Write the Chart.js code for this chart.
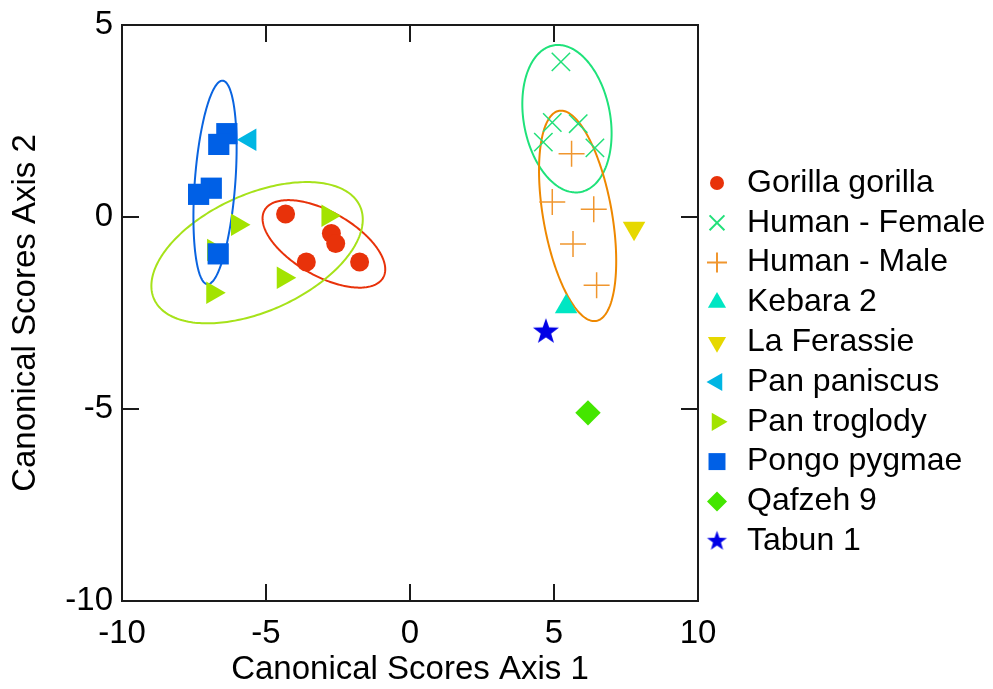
<!DOCTYPE html>
<html>
<head>
<meta charset="utf-8">
<title>Canonical Scores</title>
<script src="https://cdn.jsdelivr.net/npm/chart.js@4/dist/chart.umd.min.js"></script>
<style>
  html, body { margin: 0; padding: 0; background: #ffffff; }
  #wrap { width: 993px; height: 689px; }
</style>
</head>
<body>
<div id="wrap"><canvas id="chart" width="993" height="689"></canvas></div>
<script>
// ---- data: canonical scores per specimen group ----
const seriesNames = ['Gorilla gorilla', 'Human - Female', 'Human - Male', 'Kebara 2', 'La Ferassie',
                     'Pan paniscus', 'Pan troglody', 'Pongo pygmae', 'Qafzeh 9', 'Tabun 1'];

const gorillaX   = [-4.32, -2.73, -2.58, -3.60, -1.75];
const gorillaY   = [ 0.08, -0.43, -0.69, -1.17, -1.17];
const femaleX    = [ 5.24,  4.94,  5.84,  4.63,  6.42];
const femaleY    = [ 4.04,  2.46,  2.43,  1.95,  1.80];
const maleX      = [ 5.61,  4.94,  6.38,  5.66,  6.48];
const maleY      = [ 1.65,  0.39,  0.20, -0.70, -1.78];
const kebaraX    = [ 5.42];
const kebaraY    = [-2.34];
const ferassieX  = [ 7.78];
const ferassieY  = [-0.29];
const paniscusX  = [-5.56];
const paniscusY  = [ 2.01];
const troglodyX  = [-2.85, -5.99, -4.40, -6.85, -6.82];
const troglodyY  = [ 0.03, -0.20, -1.58, -1.97, -0.86];
const pongoX     = [-6.36, -6.64, -6.90, -7.34, -6.66];
const pongoY     = [ 2.17,  1.89,  0.75,  0.59, -0.96];
const qafzehX    = [ 6.18];
const qafzehY    = [-5.10];
const tabunX     = [ 4.72];
const tabunY     = [-2.99];

const seriesX = [gorillaX, femaleX, maleX, kebaraX, ferassieX, paniscusX, troglodyX, pongoX, qafzehX, tabunX];
const seriesY = [gorillaY, femaleY, maleY, kebaraY, ferassieY, paniscusY, troglodyY, pongoY, qafzehY, tabunY];

// confidence ellipses: centre, half-extent along each axis, correlation
const ellipseGroups = ['Gorilla gorilla', 'Human - Female', 'Human - Male', 'Pan troglody', 'Pongo pygmae'];
const ellipseCx   = [-2.99, 5.45, 5.82, -5.31, -6.77];
const ellipseCy   = [-0.70, 2.56, 0.03, -0.93,  0.90];
const ellipseSx   = [ 2.13, 1.55, 1.34,  3.67,  0.75];
const ellipseSy   = [ 1.14, 1.92, 2.74,  1.84,  2.65];
const ellipseCorr = [-0.58, -0.20, -0.43, 0.47,  0.34];

const xTickValues = [-10, -5, 0, 5, 10];
const yTickValues = [-10, -5, 0, 5];

// ---- styles ----
const FONT = '"Liberation Sans", Arial, Helvetica, sans-serif';
const seriesColors = ['#e8320a', '#22e07a', '#f0962e', '#00e6c3', '#e6d800',
                      '#00b6e3', '#a3e300', '#0060e6', '#44e600', '#0000e6'];
const ellipseColors = ['#e8320a', '#1fe27a', '#ee8800', '#a6e21a', '#0a64e0'];

function makeStar(outer, color) {
  const size = Math.ceil(outer * 2 + 2);
  const cv = document.createElement('canvas');
  cv.width = size; cv.height = size;
  const c = cv.getContext('2d');
  const cx = size / 2, cy = size / 2, inner = outer * 0.40;
  c.beginPath();
  for (let k = 0; k < 10; k++) {
    const r = k % 2 === 0 ? outer : inner;
    const a = -Math.PI / 2 + k * Math.PI / 5;
    const px = cx + r * Math.cos(a), py = cy + r * Math.sin(a);
    if (k === 0) c.moveTo(px, py); else c.lineTo(px, py);
  }
  c.closePath();
  c.fillStyle = color;
  c.fill();
  return cv;
}

const starBig = makeStar(13.7, seriesColors[9]);
const starSmall = makeStar(10.5, seriesColors[9]);

const pointStyles   = ['circle', 'crossRot', 'cross', 'triangle', 'triangle', 'triangle', 'triangle', 'rect', 'rectRot', starBig];
const legendStyles  = ['circle', 'crossRot', 'cross', 'triangle', 'triangle', 'triangle', 'triangle', 'rect', 'rectRot', starSmall];
const pointRotation = [0, 0, 0, 0, 180, -90, 90, 0, 0, 0];
const pointRadii    = [9.5, 13, 13, 13, 13, 13, 13, 15, 12.7, 14];
const legendRadii   = [7, 10.5, 10, 10.5, 10.5, 10.5, 10.5, 12, 10, 10];
const strokeWidths  = [0, 1.5, 1.5, 0, 0, 0, 0, 0, 0, 0];

const datasets = seriesNames.map((name, i) => ({
  label: name,
  data: seriesX[i].map((x, k) => ({ x: x, y: seriesY[i][k] })),
  pointStyle: pointStyles[i],
  rotation: pointRotation[i],
  pointRadius: pointRadii[i],
  pointHoverRadius: pointRadii[i],
  backgroundColor: seriesColors[i],
  borderColor: seriesColors[i],
  borderWidth: strokeWidths[i],
  order: 20 - i
}));

// ellipses under the markers
const ellipsePlugin = {
  id: 'confidenceEllipses',
  beforeDatasetsDraw(chart) {
    const { ctx, chartArea, scales: { x, y } } = chart;
    ctx.save();
    ctx.beginPath();
    ctx.rect(chartArea.left, chartArea.top, chartArea.width, chartArea.height);
    ctx.clip();
    ellipseGroups.forEach((g, i) => {
      const cx = ellipseCx[i], cy = ellipseCy[i], r = ellipseCorr[i];
      const c0 = x.getPixelForValue(cx), c1 = y.getPixelForValue(cy);
      const ux = x.getPixelForValue(cx + ellipseSx[i]) - c0;
      const uy = y.getPixelForValue(cy + r * ellipseSy[i]) - c1;
      const vy = y.getPixelForValue(cy + Math.sqrt(1 - r * r) * ellipseSy[i]) - c1;
      ctx.beginPath();
      const n = 240;
      for (let k = 0; k <= n; k++) {
        const t = 2 * Math.PI * k / n;
        const px = c0 + ux * Math.cos(t);
        const py = c1 + uy * Math.cos(t) + vy * Math.sin(t);
        if (k === 0) ctx.moveTo(px, py); else ctx.lineTo(px, py);
      }
      ctx.closePath();
      ctx.strokeStyle = ellipseColors[i];
      ctx.lineWidth = 2;
      ctx.stroke();
    });
    ctx.restore();
  }
};

// closed frame with inward tick marks on all four sides, plus the legend
const framePlugin = {
  id: 'frameAndLegend',
  afterDraw(chart) {
    const { ctx, chartArea: a, scales: { x, y } } = chart;
    ctx.save();
    ctx.strokeStyle = '#1a1a1a';
    ctx.lineWidth = 2;
    ctx.strokeRect(a.left, a.top, a.right - a.left, a.bottom - a.top);
    const tl = 17;
    ctx.beginPath();
    xTickValues.forEach(v => {
      const px = Math.round(x.getPixelForValue(v));
      ctx.moveTo(px, a.bottom); ctx.lineTo(px, a.bottom - tl);
      ctx.moveTo(px, a.top); ctx.lineTo(px, a.top + tl);
    });
    yTickValues.forEach(v => {
      const py = Math.round(y.getPixelForValue(v));
      ctx.moveTo(a.left, py); ctx.lineTo(a.left + tl, py);
      ctx.moveTo(a.right, py); ctx.lineTo(a.right - tl, py);
    });
    ctx.stroke();

    // legend
    const lx = 717, tx = 747, y0 = 183, step = 39.8;
    seriesNames.forEach((name, i) => {
      const ly = y0 + step * i;
      ctx.fillStyle = seriesColors[i];
      ctx.strokeStyle = seriesColors[i];
      Chart.helpers.drawPoint(ctx, {
        pointStyle: legendStyles[i],
        rotation: pointRotation[i],
        radius: legendRadii[i],
        borderWidth: strokeWidths[i] || 0
      }, lx, ly);
      ctx.fillStyle = '#000000';
      ctx.font = '32px ' + FONT;
      ctx.textBaseline = 'middle';
      ctx.textAlign = 'left';
      ctx.fillText(name, tx, ly);
    });
    ctx.restore();
  }
};

new Chart(document.getElementById('chart'), {
  type: 'scatter',
  data: { datasets },
  plugins: [ellipsePlugin, framePlugin],
  options: {
    responsive: false,
    animation: false,
    devicePixelRatio: 1,
    layout: { padding: { top: 25, right: 295, left: 0, bottom: 0 } },
    plugins: { legend: { display: false }, tooltip: { enabled: false } },
    scales: {
      x: {
        type: 'linear', min: -10, max: 10,
        afterBuildTicks(scale) { scale.ticks = xTickValues.map(v => ({ value: v })); },
        ticks: { font: { family: FONT, size: 33 }, color: '#000', padding: 13, maxRotation: 0, autoSkip: false },
        grid: { display: false, drawTicks: false },
        border: { display: false },
        title: { display: true, text: 'Canonical Scores Axis 1', color: '#000',
                 font: { family: FONT, size: 33 }, padding: { top: 0, bottom: -1 } },
        afterFit(scale) { scale.height = 88; scale.paddingLeft = 0; scale.paddingRight = 0; }
      },
      y: {
        type: 'linear', min: -10, max: 5,
        afterBuildTicks(scale) { scale.ticks = yTickValues.map(v => ({ value: v })); },
        ticks: { font: { family: FONT, size: 33 }, color: '#000', padding: 9, autoSkip: false },
        grid: { display: false, drawTicks: false },
        border: { display: false },
        title: { display: true, text: 'Canonical Scores Axis 2', color: '#000',
                 font: { family: FONT, size: 33 }, padding: { top: 6, bottom: 0 } },
        afterFit(scale) { scale.width = 122; scale.paddingTop = 0; scale.paddingBottom = 0; }
      }
    }
  }
});
</script>
</body>
</html>
